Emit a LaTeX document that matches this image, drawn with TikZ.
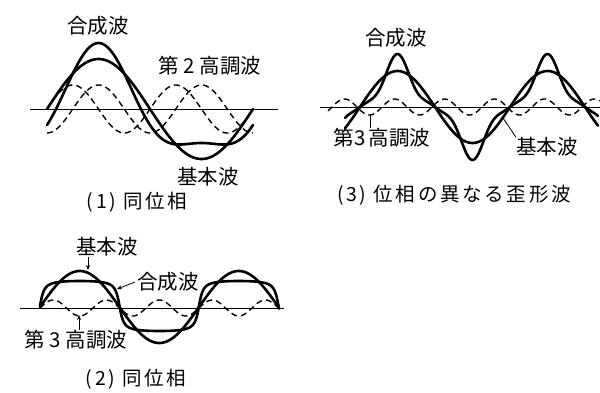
\documentclass[tikz,border=0pt]{standalone}
\usepackage{fontspec}
\newfontfamily\jpfont{Noto Sans CJK JP}
\newfontfamily\jpwide[LetterSpace=14]{Noto Sans CJK JP}
\usetikzlibrary{arrows.meta}
\tikzset{
  wave/.style={line width=2.6pt, line join=round, line cap=round},
  harm/.style={line width=1.4pt, dash pattern=on 6pt off 4pt},
  axisline/.style={line width=0.7pt},
  lbl/.style={font=\jpfont\fontsize{20.5pt}{21pt}\selectfont, inner sep=0pt},
  captxt/.style={font=\jpwide\fontsize{19.5pt}{20pt}\selectfont, inner sep=0pt},
  lead/.style={line width=0.8pt},
  ptr/.style={line width=0.8pt, -{Stealth[length=5pt,width=4pt]}},
}
\begin{document}
\begin{tikzpicture}[x=1pt, y=-1pt]
  \useasboundingbox (0,0) rectangle (600,392);

  % (1) fundamental + 2nd harmonic
  \coordinate (a1l) at (30,109);
  \coordinate (a1r) at (278,109);
  \draw[axisline] (a1l) -- (a1r);
  \draw[wave] plot[domain=47:253, samples=150, smooth] (\x, {109-50*sin((\x-47)/206*360)});
  \draw[wave] plot[domain=47:253, samples=150, smooth] (\x, {109-50*sin((\x-47)/206*360)+16*cos((\x-47)/206*720)});
  \draw[harm] plot[domain=47:253, samples=150, smooth] (\x, {109+24*cos((\x-47)/206*720)});
  \draw[harm] plot[domain=47:253, samples=150, smooth] (\x, {109-24*sin((\x-47)/206*720)});
  \node[lbl] (gosei1) at (98,26) {合成波};
  \node[lbl] (dai2) at (210,66) {第 2 高調波};
  \node[lbl] (kihon1) at (208,177) {基本波};
  \node[captxt] (cap1) at (137,202) {(1) 同位相};

  % (2) fundamental + 3rd harmonic, same phase
  \coordinate (a2l) at (20,308);
  \coordinate (a2r) at (284,308);
  \draw[axisline] (a2l) -- (a2r);
  \draw[wave] plot[domain=40:279, samples=180, smooth] (\x, {307-36*sin((\x-40)/159*360)});
  \draw[wave] plot[domain=40:279, samples=200, smooth] (\x, {306-25*atan(8*sin((\x-40)/159*360))/atan(8)});
  \draw[harm] plot[domain=40:279, samples=180, smooth] (\x, {308-8*sin((\x-40)/159*1080)});
  \node[lbl] (kihon2) at (107,247) {基本波};
  \node[lbl] (gosei2) at (168,282) {合成波};
  \node[lbl] (dai3b) at (76,340) {第 3 高調波};
  \node[captxt] (cap2) at (136,379) {(2) 同位相};
  \coordinate (k2tip) at (88,270);
  \coordinate (g2tip) at (117,289);
  \coordinate (h2tip) at (79,315);
  \draw[ptr] (kihon2.south -| k2tip) -- (k2tip);
  \draw[ptr] ([xshift=-2pt]gosei2.west) -- (g2tip);
  \draw[ptr] (dai3b.north -| h2tip) -- (h2tip);

  % (3) fundamental + 3rd harmonic, other phase
  \coordinate (a3l) at (320,107);
  \coordinate (a3r) at (600,107);
  \draw[axisline] (a3l) -- (a3r);
  \draw[wave] plot[domain=345:598, samples=180, smooth] (\x, {107-36*sin((\x-360)/150*360)});
  \draw[wave] plot[domain=345:598, samples=200, smooth] (\x, {107-38*sin((\x-360)/150*360)+12*sin((\x-360)/150*1080)-3*sin((\x-360)/150*1800)});
  \draw[harm] plot[domain=328:600, samples=180, smooth] (\x, {107+8*sin((\x-357)/150*1080)});
  \node[lbl] (gosei3) at (396,38) {合成波};
  \node[lbl] (dai3c) at (382,138) {第3\,高調波};
  \node[lbl] (kihon3) at (547,147) {基本波};
  \node[captxt] (cap3) at (454,195) {(3) 位相の異なる歪形波};
  \coordinate (h3tip) at (370,115);
  \coordinate (k3tip) at (503,118);
  \draw[lead] (dai3c.north -| h3tip) -- (h3tip);
  \draw[lead] (kihon3.north west) -- (k3tip);
\end{tikzpicture}
\end{document}
